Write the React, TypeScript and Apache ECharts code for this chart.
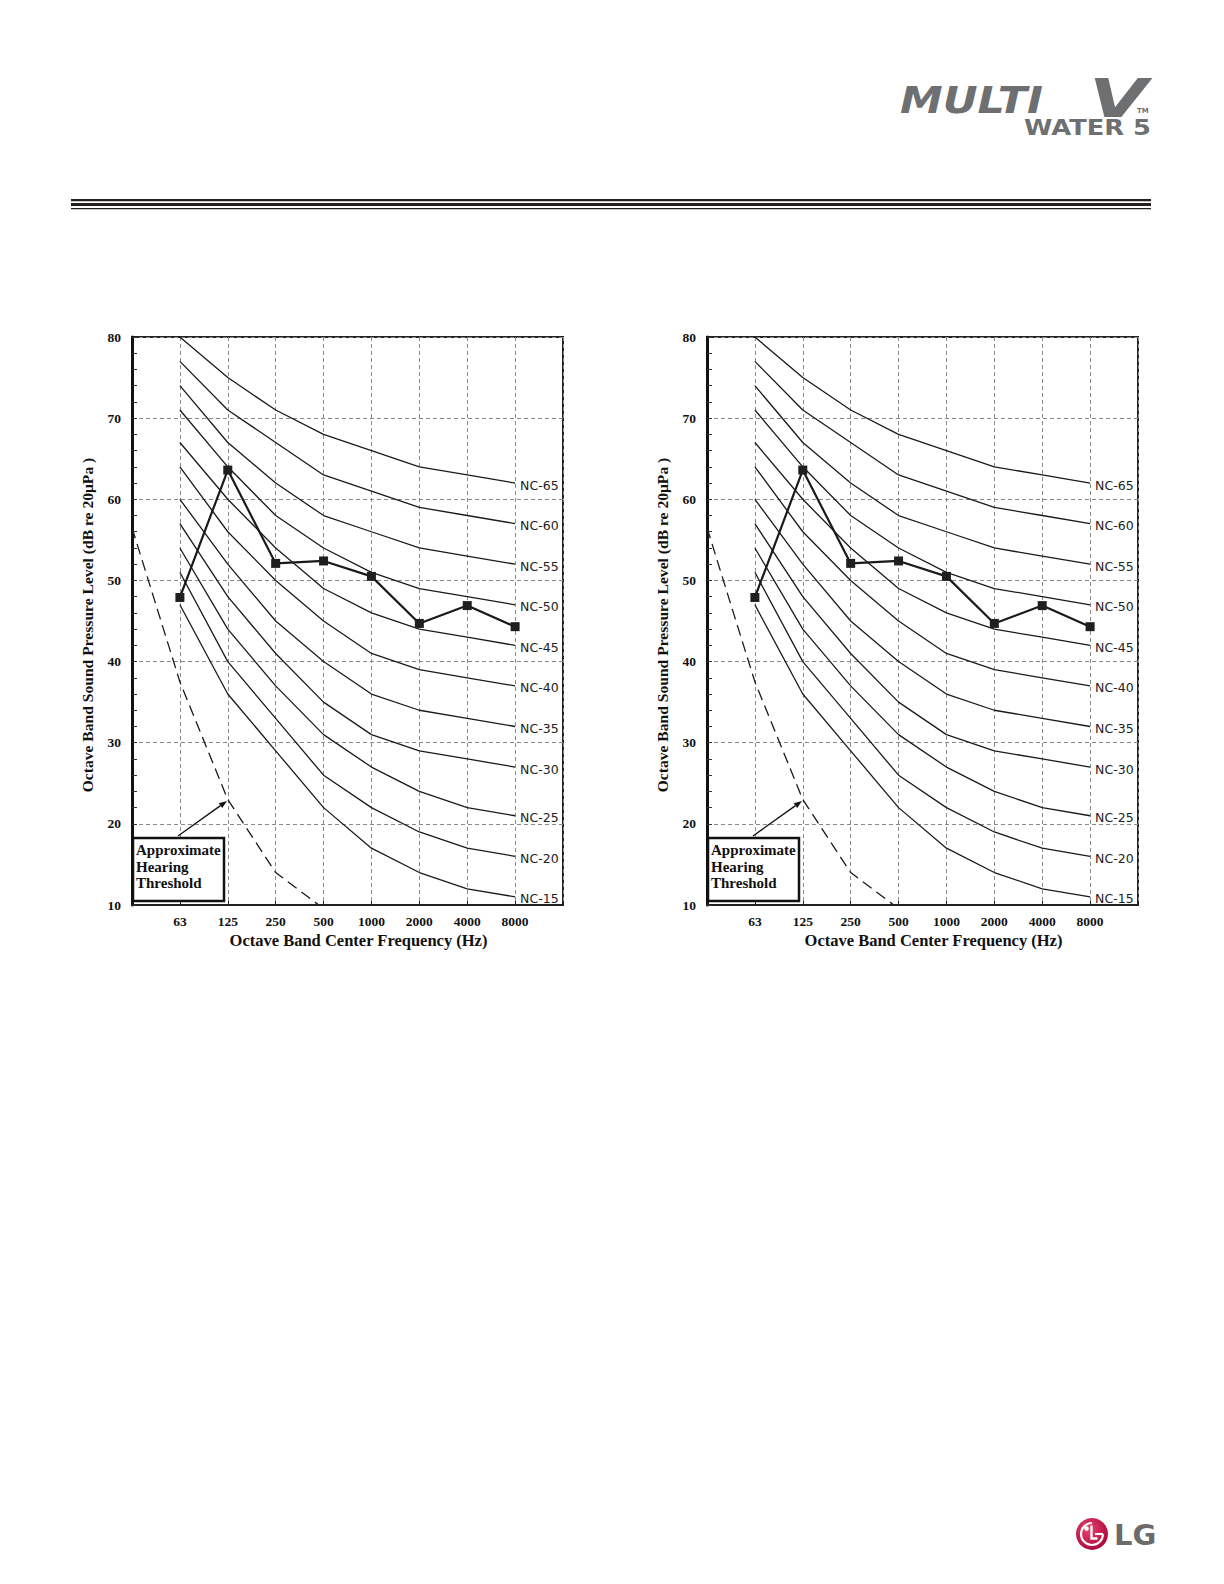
import React, { useEffect, useRef } from "react";
import * as echarts from "echarts";

// ---- data ----
const FREQS = ["63", "125", "250", "500", "1000", "2000", "4000", "8000"];
const NC_NAMES = ["NC-15", "NC-20", "NC-25", "NC-30", "NC-35", "NC-40", "NC-45", "NC-50", "NC-55", "NC-60", "NC-65"];
const NC15 = [47, 36, 29, 22, 17, 14, 12, 11];
const NC20 = [51, 40, 33, 26, 22, 19, 17, 16];
const NC25 = [54, 44, 37, 31, 27, 24, 22, 21];
const NC30 = [57, 48, 41, 35, 31, 29, 28, 27];
const NC35 = [60, 52, 45, 40, 36, 34, 33, 32];
const NC40 = [64, 56, 50, 45, 41, 39, 38, 37];
const NC45 = [67, 60, 54, 49, 46, 44, 43, 42];
const NC50 = [71, 64, 58, 54, 51, 49, 48, 47];
const NC55 = [74, 67, 62, 58, 56, 54, 53, 52];
const NC60 = [77, 71, 67, 63, 61, 59, 58, 57];
const NC65 = [80, 75, 71, 68, 66, 64, 63, 62];
const NC_CURVES = [NC15, NC20, NC25, NC30, NC35, NC40, NC45, NC50, NC55, NC60, NC65];
const MEASURED = [47.9, 63.6, 52.1, 52.4, 50.5, 44.7, 46.9, 44.3];
const THRESHOLD_X = [-1, 0, 1, 2, 2.9];
const THRESHOLD_Y = [56.5, 37.5, 23, 14, 10];
const Y_TICKS = { min: 10, max: 80, step: 10 };

const SERIF = '"Liberation Serif", "Times New Roman", serif';
const SANS = '"DejaVu Sans", sans-serif';
const INK = "#1a1a1a";

const GRIDS = [
  { left: 132, top: 337, width: 431, height: 568 },
  { left: 707, top: 337, width: 431, height: 568 },
];

function seriesFor(g: number) {
  const out: any[] = [];
  NC_CURVES.forEach((vals, k) => {
    out.push({
      type: "line",
      name: NC_NAMES[k] + "-" + g,
      xAxisIndex: g,
      yAxisIndex: g,
      data: vals.map((v, i) => [i, v]),
      symbol: "none",
      silent: true,
      z: 2,
      lineStyle: { color: INK, width: 1.3 },
      endLabel: {
        show: true,
        formatter: NC_NAMES[k],
        fontFamily: SANS,
        fontSize: 12.5,
        color: "#222",
        distance: 5,
        offset: [0, 2],
      },
    });
  });
  out.push({
    type: "line",
    name: "threshold-" + g,
    xAxisIndex: g,
    yAxisIndex: g,
    data: THRESHOLD_X.map((x, i) => [x, THRESHOLD_Y[i]]),
    symbol: "none",
    silent: true,
    z: 2,
    lineStyle: { color: INK, width: 1.3, type: [11, 6] },
  });
  out.push({
    type: "line",
    name: "measured-" + g,
    xAxisIndex: g,
    yAxisIndex: g,
    data: MEASURED.map((v, i) => [i, v]),
    symbol: "rect",
    symbolSize: 9,
    silent: true,
    z: 4,
    lineStyle: { color: INK, width: 2.2 },
    itemStyle: { color: "#1f1f1f" },
  });
  return out;
}

function annotationFor(dx: number) {
  const tip = [227 + dx, 801];
  const tail = [178 + dx, 836];
  const ddx = tip[0] - tail[0];
  const ddy = tip[1] - tail[1];
  const len = Math.sqrt(ddx * ddx + ddy * ddy);
  const ux = ddx / len, uy = ddy / len;
  const bx = tip[0] - 8 * ux, by = tip[1] - 8 * uy;
  const nx = -uy, ny = ux;
  return [
    {
      type: "rect",
      shape: { x: 133 + dx, y: 838, width: 91, height: 63 },
      style: { fill: "#fff", stroke: "#111", lineWidth: 2.5 },
      z: 10,
    },
    {
      type: "text",
      x: 136 + dx,
      y: 842,
      z: 11,
      style: {
        text: "Approximate\nHearing\nThreshold",
        font: `bold 15px ${SERIF}`,
        lineHeight: 16.5,
        fill: "#111",
        textVerticalAlign: "top",
      },
    },
    {
      type: "line",
      z: 11,
      shape: { x1: tail[0], y1: tail[1], x2: bx, y2: by },
      style: { stroke: "#111", lineWidth: 1.3 },
    },
    {
      type: "polygon",
      z: 11,
      shape: {
        points: [
          [tip[0], tip[1]],
          [bx + 3 * nx, by + 3 * ny],
          [bx - 3 * nx, by - 3 * ny],
        ],
      },
      style: { fill: "#111" },
    },
  ];
}

function headerGraphics() {
  const grey = "#6d6f71";
  const cx = 1092, cy = 1534;
  return [
    { type: "rect", shape: { x: 71, y: 199, width: 1080, height: 2.2 }, style: { fill: "#231f20" } },
    { type: "rect", shape: { x: 71, y: 203, width: 1080, height: 3 }, style: { fill: "#231f20" } },
    { type: "rect", shape: { x: 71, y: 208, width: 1080, height: 1.2 }, style: { fill: "#231f20" } },
    {
      type: "text", x: 900, y: 119, scaleX: 1.13,
      style: { text: "MULTI", font: `italic bold 38px ${SANS}`, fill: grey, textVerticalAlign: "bottom" },
    },
    {
      type: "text", x: 1089, y: 125, scaleX: 1.4,
      style: { text: "V", font: `italic bold 54px ${SANS}`, fill: grey, textVerticalAlign: "bottom" },
    },
    {
      type: "text", x: 1137, y: 114,
      style: { text: "TM", font: `bold 7px ${SANS}`, fill: grey, textVerticalAlign: "bottom" },
    },
    {
      type: "text", x: 1151, y: 139, scaleX: 1.17,
      style: { text: "WATER 5", font: `bold 22px ${SANS}`, fill: grey, textAlign: "right", textVerticalAlign: "bottom" },
    },
    {
      type: "circle", shape: { cx, cy, r: 16 },
      style: {
        fill: new echarts.graphic.RadialGradient(0.4, 0.35, 0.75, [
          { offset: 0, color: "#e8456f" },
          { offset: 1, color: "#a50034" },
        ]),
      },
    },
    { type: "circle", shape: { cx: cx - 5.5, cy: cy - 5.5, r: 2.3 }, style: { fill: "#fff" } },
    {
      type: "polyline",
      shape: { points: [[cx - 0.5, cy - 8.5], [cx - 0.5, cy + 4.5], [cx + 5.5, cy + 4.5]] },
      style: { stroke: "#fff", lineWidth: 2.3, fill: "none" },
    },
    {
      type: "arc",
      shape: { cx, cy, r: 11, startAngle: 0, endAngle: Math.PI * 1.5, clockwise: true },
      style: { stroke: "#fff", lineWidth: 2.1, fill: "none" },
    },
    {
      type: "line",
      shape: { x1: cx + 3, y1: cy, x2: cx + 11, y2: cy },
      style: { stroke: "#fff", lineWidth: 2.1 },
    },
    {
      type: "text", x: 1114, y: cy + 1,
      style: { text: "LG", font: `bold 29px ${SANS}`, fill: "#6b6b6b", textVerticalAlign: "middle" },
    },
  ];
}

function buildOption() {
  const grid = GRIDS.map((g) => ({
    ...g,
    show: true,
    borderColor: "#222",
    borderWidth: 2,
    backgroundColor: "transparent",
  }));
  const xAxis = GRIDS.map((_, g) => ({
    type: "value",
    gridIndex: g,
    min: -1,
    max: FREQS.length,
    interval: 1,
    name: "Octave Band Center Frequency (Hz)",
    nameLocation: "middle",
    nameGap: 27,
    nameTextStyle: { fontFamily: SERIF, fontWeight: "bold", fontSize: 16.5, color: "#111", padding: [0, 0, 0, 22] },
    axisLine: { show: true, onZero: false, lineStyle: { color: "#222", width: 2 } },
    axisTick: { show: true, inside: true, length: 4, lineStyle: { color: "#222" } },
    axisLabel: {
      margin: 9,
      fontFamily: SERIF,
      fontWeight: "bold",
      fontSize: 13.5,
      color: "#111",
      formatter: (v: number) => (v >= 0 && v < FREQS.length ? FREQS[v] : ""),
    },
    splitLine: { show: true, lineStyle: { color: "#8a8a8a", width: 1, type: [4, 3] } },
  }));
  const yAxis = GRIDS.map((_, g) => ({
    type: "value",
    gridIndex: g,
    min: Y_TICKS.min,
    max: Y_TICKS.max,
    interval: Y_TICKS.step,
    name: "Octave Band Sound Pressure Level (dB re 20μPa )",
    nameLocation: "middle",
    nameRotate: 90,
    nameGap: 37,
    nameTextStyle: { fontFamily: SERIF, fontWeight: "bold", fontSize: 15.6, color: "#111", padding: [0, 8, 0, 0] },
    axisLine: { show: true, onZero: false, lineStyle: { color: "#111", width: 3 } },
    axisTick: { show: true, inside: true, length: 5, lineStyle: { color: "#333" } },
    minorTick: { show: true, splitNumber: 5, length: 5, lineStyle: { color: "#333" } },
    axisLabel: { margin: 11, fontFamily: SERIF, fontWeight: "bold", fontSize: 13.5, color: "#111" },
    splitLine: { show: true, lineStyle: { color: "#8a8a8a", width: 1, type: [4, 3] } },
  }));
  const graphic = [...headerGraphics(), ...annotationFor(0), ...annotationFor(575)];
  return {
    animation: false,
    backgroundColor: "#fff",
    grid,
    xAxis,
    yAxis,
    series: [...seriesFor(0), ...seriesFor(1)],
    graphic,
  };
}

export default function App() {
  const ref = useRef<HTMLDivElement>(null);
  useEffect(() => {
    if (!ref.current) return;
    const chart = echarts.init(ref.current, null, { renderer: "svg" });
    chart.setOption(buildOption() as any);
    return () => chart.dispose();
  }, []);
  return (
    <div
      ref={ref}
      style={{ position: "absolute", left: 0, top: 0, width: 1224, height: 1584, background: "#fff" }}
    />
  );
}
